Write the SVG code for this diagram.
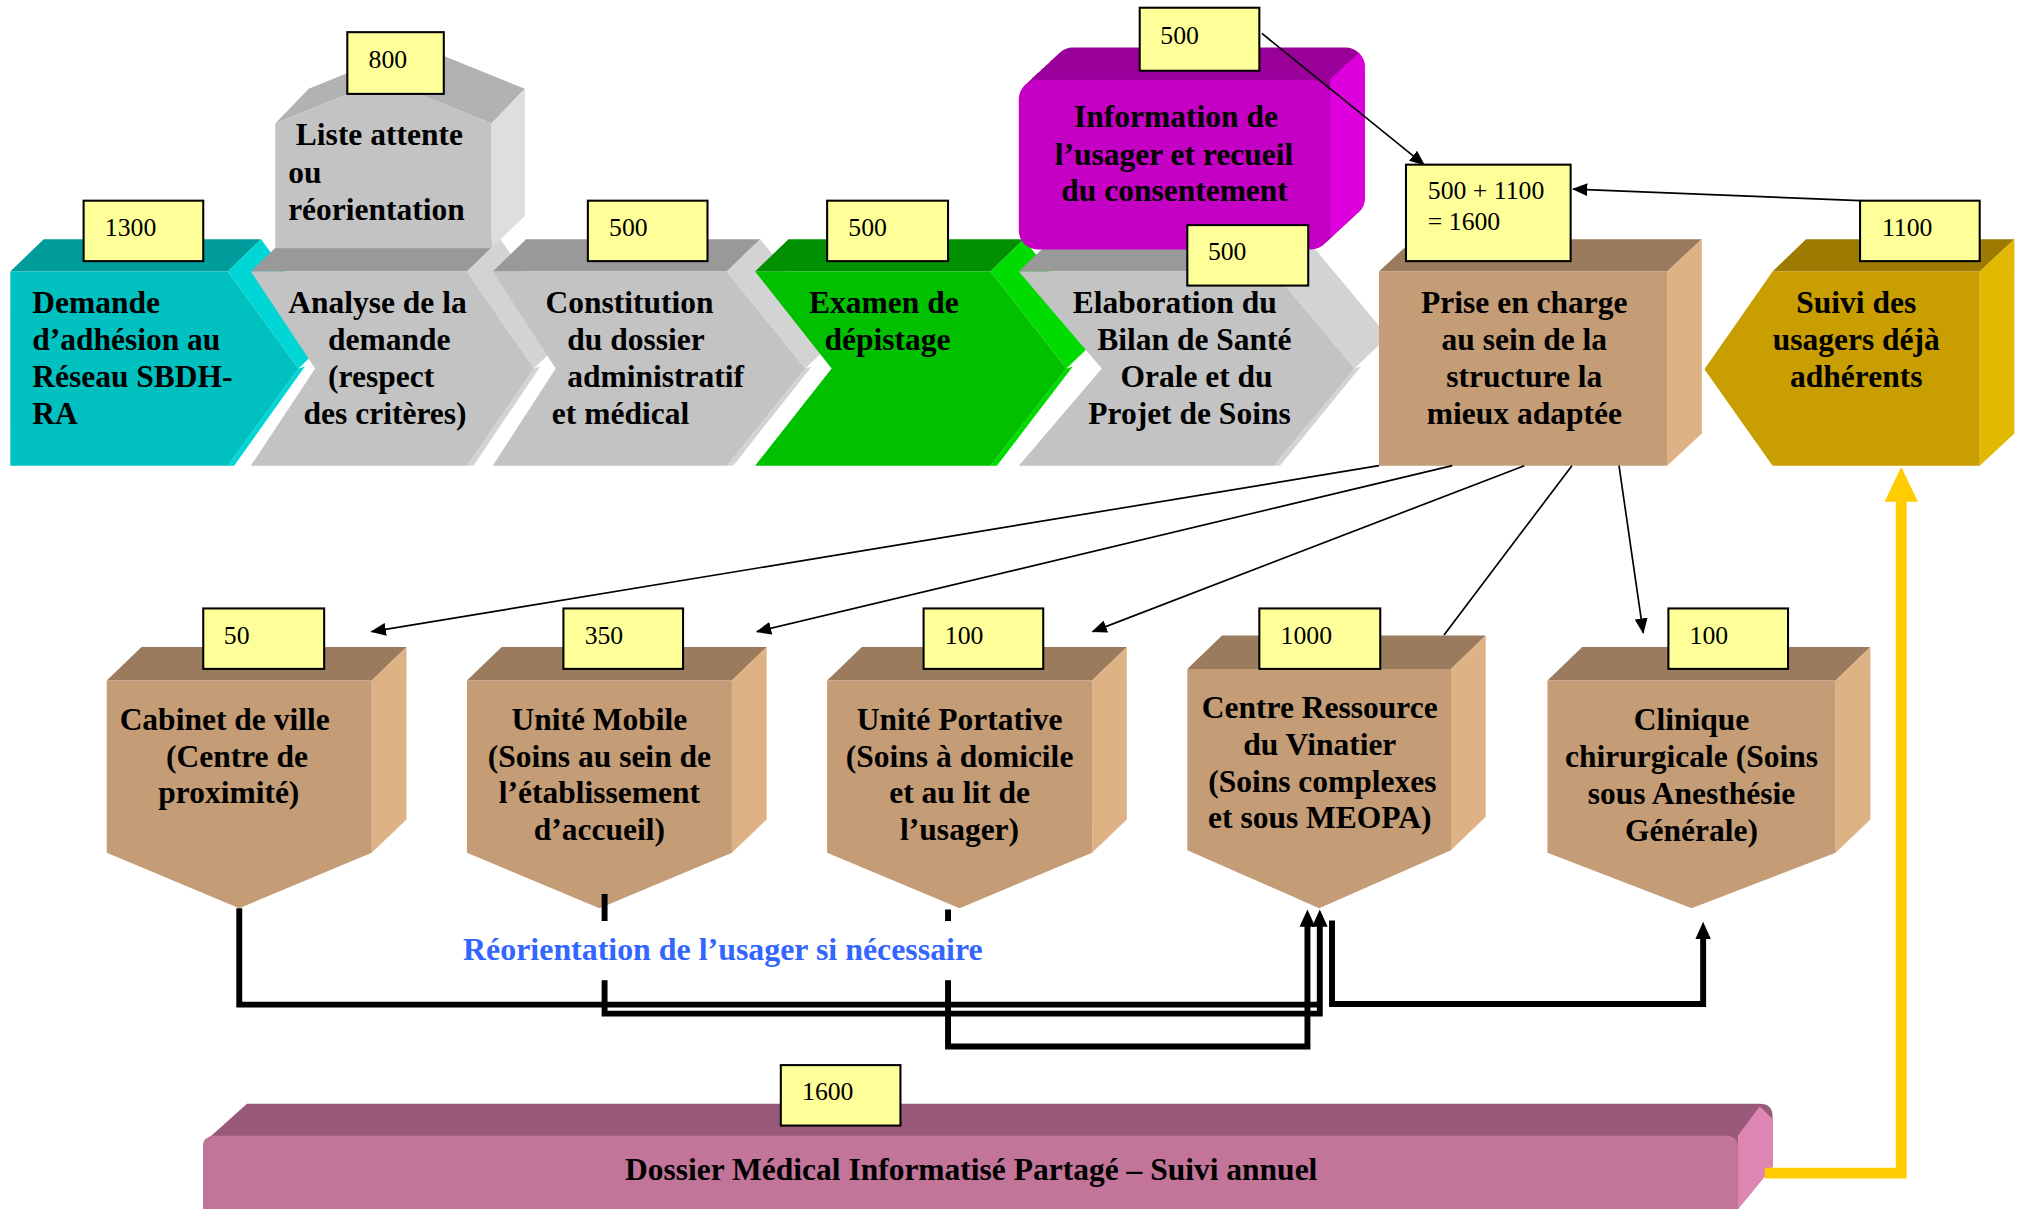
<svg xmlns="http://www.w3.org/2000/svg" width="2017" height="1209" viewBox="0 0 2017 1209">
<style>
.t{font-family:"Liberation Serif","Times New Roman",serif;font-weight:bold;font-size:24.5px;fill:#000}
.m{text-anchor:middle}
.n{font-family:"Liberation Serif","Times New Roman",serif;font-size:20px;fill:#000}
.lab{fill:#FFFF99;stroke:#000;stroke-width:1.6}
.gf{fill:#C3C3C3}.gt{fill:#999999}.gs{fill:#D3D3D3}
.tf{fill:#C49C76}.tt{fill:#9A7B5D}.ts{fill:#DFB286}
.thin{stroke:#000;stroke-width:1.3;fill:none}
.thick{stroke:#000;stroke-width:4.6;fill:none}
</style>
<defs>
<marker id="ah" viewBox="0 0 12 10" refX="11" refY="5" markerWidth="12" markerHeight="10" orient="auto" markerUnits="userSpaceOnUse"><path d="M0,0 L12,5 L0,10 z" fill="#000"/></marker>
<rect id="mg" x="792" y="62" width="242" height="132" rx="15"/>
<clipPath id="mgside"><polygon points="1034,62 1142,-38 1200,-38 1200,300 1034,300"/></clipPath>
<g id="mgext">
<use href="#mg" transform="translate(27,-25)"/>
<use href="#mg" transform="translate(23.6,-21.9)"/>
<use href="#mg" transform="translate(20.2,-18.8)"/>
<use href="#mg" transform="translate(16.9,-15.6)"/>
<use href="#mg" transform="translate(13.5,-12.5)"/>
<use href="#mg" transform="translate(10.1,-9.4)"/>
<use href="#mg" transform="translate(6.8,-6.3)"/>
<use href="#mg" transform="translate(3.4,-3.1)"/>
</g>
</defs>
<rect width="2017" height="1209" fill="#fff"/>
<g transform="scale(1.28635)">

<g id="demande">
<polygon points="8,211 34,186 203,186 177,211" fill="#009B9B"/>
<polygon points="177,211 203,186 258,261.5 232,286.5" fill="#00D6D6"/>
<polygon points="232,286.5 237,285 182,362 177,362" fill="#00D6D6"/>
<polygon points="8,211 177,211 232,286.5 177,362 8,362" fill="#00C0C0"/>
<text class="t" x="25" y="243">Demande</text>
<text class="t" x="25" y="272">d’adhésion au</text>
<text class="t" x="25" y="301">Réseau SBDH-</text>
<text class="t" x="25" y="330">RA</text>
</g>

<g id="analyse">
<polygon class="gt" points="195,211 221,186 389,186 363,211"/>
<polygon class="gs" points="363,211 389,186 441,261.5 415,286.5"/>
<polygon class="gs" points="415,286.5 420,285 368,362 363,362"/>
<polygon class="gf" points="195,211 363,211 415,286.5 363,362 195,362 245,286.5"/>
<text class="t" x="224" y="243">Analyse de la</text>
<text class="t" x="255" y="272">demande</text>
<text class="t" x="255" y="301">(respect</text>
<text class="t" x="236" y="330">des critères)</text>
</g>

<g id="liste">
<polygon points="214,96 240,69 324,35 408,69 382,96 298,62" fill="#B2B2B2"/>
<polygon points="382,96 408,69 408,168 382,193" fill="#DEDEDE"/>
<polygon points="214,96 298,62 382,96 382,193 214,193" fill="#C3C3C3"/>
<text class="t" x="230" y="113">Liste attente</text>
<text class="t" x="224" y="142">ou</text>
<text class="t" x="224" y="171">réorientation</text>
</g>

<g id="constitution">
<polygon class="gt" points="383,211 409,186 591,186 565,211"/>
<polygon class="gs" points="565,211 591,186 652,261.5 626,286.5"/>
<polygon class="gs" points="626,286.5 631,285 570,362 565,362"/>
<polygon class="gf" points="383,211 565,211 626,286.5 565,362 383,362 432,286.5"/>
<text class="t" x="424" y="243">Constitution</text>
<text class="t" x="441" y="272">du dossier</text>
<text class="t" x="441" y="301">administratif</text>
<text class="t" x="429" y="330">et médical</text>
</g>

<g id="examen">
<polygon points="587,211 613,186 796,186 770,211" fill="#009000"/>
<polygon points="770,211 796,186 855,261.5 829,286.5" fill="#00DC00"/>
<polygon points="829,286.5 834,285 775,362 770,362" fill="#00DC00"/>
<polygon points="587,211 770,211 829,286.5 770,362 587,362 646.5,286.5" fill="#00C000"/>
<text class="t" x="629" y="243">Examen de</text>
<text class="t" x="641" y="272">dépistage</text>
</g>

<g id="elaboration">
<polygon class="gt" points="792,211 818,186 1016,186 990,211"/>
<polygon class="gs" points="990,211 1016,186 1079,261.5 1053,286.5"/>
<polygon class="gs" points="1053,286.5 1058,285 995,362 990,362"/>
<polygon class="gf" points="792,211 990,211 1053,286.5 990,362 792,362 856.5,286.5"/>
<text class="t" x="834" y="243">Elaboration du</text>
<text class="t" x="853" y="272">Bilan de Santé</text>
<text class="t" x="871" y="301">Orale et du</text>
<text class="t" x="846" y="330">Projet de Soins</text>
</g>

<g id="information">
<use href="#mgext" fill="#990099"/>
<use href="#mgext" fill="#DD00DD" clip-path="url(#mgside)"/>
<use href="#mg" fill="#C400C4"/>
<text class="t" x="835" y="99">Information de</text>
<text class="t" x="820" y="128">l’usager et recueil</text>
<text class="t" x="825" y="156.5">du consentement</text>
</g>

<g id="prise">
<polygon class="tt" points="1072,211 1099,186 1323,186 1296,211"/>
<polygon class="ts" points="1296,211 1323,186 1323,337 1296,362"/>
<polygon class="tf" points="1072,211 1296,211 1296,362 1072,362"/>
<text class="t m" x="1185" y="243">Prise en charge</text>
<text class="t m" x="1185" y="272">au sein de la</text>
<text class="t m" x="1185" y="301">structure la</text>
<text class="t m" x="1185" y="330">mieux adaptée</text>
</g>

<g id="suivi">
<polygon points="1378,211 1404,186 1566,186 1539,211" fill="#9C7B00"/>
<polygon points="1539,211 1566,186 1566,337 1539,362" fill="#E2B800"/>
<polygon points="1325,287 1378,211 1539,211 1539,362 1378,362" fill="#C89E00"/>
<text class="t m" x="1443" y="243">Suivi des</text>
<text class="t m" x="1443" y="272">usagers déjà</text>
<text class="t m" x="1443" y="301">adhérents</text>
</g>

<g id="cabinet">
<polygon class="tt" points="83,529 110,503 316,503 289,529"/>
<polygon class="ts" points="289,529 316,503 316,637 289,663"/>
<polygon class="tf" points="83,529 289,529 289,663 186,706 83,663"/>
<text class="t" x="93" y="567.5">Cabinet de ville</text>
<text class="t" x="129" y="596">(Centre de</text>
<text class="t" x="123" y="624.5">proximité)</text>
</g>

<g id="mobile">
<polygon class="tt" points="363,529 390,503 596,503 569,529"/>
<polygon class="ts" points="569,529 596,503 596,637 569,663"/>
<polygon class="tf" points="363,529 569,529 569,663 466,706 363,663"/>
<text class="t m" x="466" y="567.5">Unité Mobile</text>
<text class="t m" x="466" y="596">(Soins au sein de</text>
<text class="t m" x="466" y="624.5">l’établissement</text>
<text class="t m" x="466" y="653">d’accueil)</text>
</g>

<g id="portative">
<polygon class="tt" points="643,529 670,503 876,503 849,529"/>
<polygon class="ts" points="849,529 876,503 876,637 849,663"/>
<polygon class="tf" points="643,529 849,529 849,663 746,706 643,663"/>
<text class="t m" x="746" y="567.5">Unité Portative</text>
<text class="t m" x="746" y="596">(Soins à domicile</text>
<text class="t m" x="746" y="624.5">et au lit de</text>
<text class="t m" x="746" y="653">l’usager)</text>
</g>

<g id="centre">
<polygon class="tt" points="923,520 950,494 1155,494 1128,520"/>
<polygon class="ts" points="1128,520 1155,494 1155,635 1128,661"/>
<polygon class="tf" points="923,520 1128,520 1128,661 1025.5,706 923,661"/>
<text class="t m" x="1026" y="558.4">Centre Ressource</text>
<text class="t m" x="1026" y="587">du Vinatier</text>
<text class="t m" x="1028" y="615.4">(Soins complexes</text>
<text class="t m" x="1026" y="644">et sous MEOPA)</text>
</g>

<g id="clinique">
<polygon class="tt" points="1203,529 1230,503 1454,503 1427,529"/>
<polygon class="ts" points="1427,529 1454,503 1454,637 1427,663"/>
<polygon class="tf" points="1203,529 1427,529 1427,663 1315,706 1203,663"/>
<text class="t m" x="1315" y="567.5">Clinique</text>
<text class="t m" x="1315" y="596">chirurgicale (Soins</text>
<text class="t m" x="1315" y="625">sous Anesthésie</text>
<text class="t m" x="1315" y="654">Générale)</text>
</g>

<g id="dossier">
<path d="M192,858 L1368,858 Q1378,858 1378,868 L1378,907 L1351,940 L158,940 L158,890 Q158,885 163,884 Z" fill="#985A78"/>
<polygon points="1351,883 1368,860 1378,870 1378,907 1351,940" fill="#DE86B3"/>
<rect x="158" y="883" width="1193" height="80" rx="8" fill="#C27499"/>
<text class="t m" x="755" y="917">Dossier Médical Informatisé Partagé – Suivi annuel</text>
</g>

<g id="connectors">
<path class="thin" d="M981,26 L1107,128" marker-end="url(#ah)"/>
<path class="thin" d="M1446,156 L1223,147" marker-end="url(#ah)"/>
<path class="thin" d="M1072,362 L289,491" marker-end="url(#ah)"/>
<path class="thin" d="M1129,362 L588.5,491" marker-end="url(#ah)"/>
<path class="thin" d="M1185,362 L849.5,491" marker-end="url(#ah)"/>
<path class="thin" d="M1222,362 L1122.6,493.6"/>
<path class="thin" d="M1258.6,362 L1277.4,491.8" marker-end="url(#ah)"/>
<path class="thick" d="M186,706 V781 H1026"/>
<path class="thick" d="M470,695 V788 H1026 V719"/>
<path class="thick" d="M737,707 V813.5 H1016.4 V719"/>
<path class="thick" d="M1035.5,715.5 V780.5 H1324 V729"/>
<polygon points="1010.3,720.5 1016.4,707 1022.5,720.5" fill="#000"/>
<polygon points="1019.9,720.5 1026,707 1032.1,720.5" fill="#000"/>
<polygon points="1318,730 1324,716.5 1330,730" fill="#000"/>
<path d="M1372,912 H1478 V388" fill="none" stroke="#FFCC00" stroke-width="8.5"/>
<polygon points="1465,390 1478,363 1491,390" fill="#FFCC00"/>
</g>

<g id="reorientation">
<rect x="355" y="716" width="415" height="46" fill="#fff"/>
<text class="t" x="360" y="746" style="fill:#3366FF;font-size:24.8px">Réorientation de l’usager si nécessaire</text>
</g>

<g id="labels">
<g id="lab-1300"><rect class="lab" x="65" y="156" width="93" height="47"/><text class="n" x="81.5" y="183.5">1300</text></g>
<g id="lab-800"><rect class="lab" x="270" y="25" width="75" height="48"/><text class="n" x="286.5" y="53">800</text></g>
<g id="lab-500a"><rect class="lab" x="457" y="156" width="93" height="47"/><text class="n" x="473.5" y="183.5">500</text></g>
<g id="lab-500b"><rect class="lab" x="643" y="156" width="94" height="47"/><text class="n" x="659.5" y="183.5">500</text></g>
<g id="lab-500c"><rect class="lab" x="886" y="6" width="93" height="49"/><text class="n" x="902" y="34">500</text></g>
<g id="lab-500d"><rect class="lab" x="923" y="175" width="94" height="47"/><text class="n" x="939" y="202">500</text></g>
<g id="lab-1600a"><rect class="lab" x="1093" y="128" width="128" height="75"/><text class="n" x="1110" y="155">500 + 1100</text><text class="n" x="1110" y="179">= 1600</text></g>
<g id="lab-1100"><rect class="lab" x="1446" y="156" width="93" height="47"/><text class="n" x="1463" y="183.5">1100</text></g>
<g id="lab-50"><rect class="lab" x="158" y="473" width="94" height="47"/><text class="n" x="174" y="500.5">50</text></g>
<g id="lab-350"><rect class="lab" x="438" y="473" width="93" height="47"/><text class="n" x="454.5" y="500.5">350</text></g>
<g id="lab-100a"><rect class="lab" x="718" y="473" width="93" height="47"/><text class="n" x="734.5" y="500.5">100</text></g>
<g id="lab-1000"><rect class="lab" x="979" y="473" width="94" height="47"/><text class="n" x="995.5" y="500.5">1000</text></g>
<g id="lab-100b"><rect class="lab" x="1297" y="473" width="93" height="47"/><text class="n" x="1313.5" y="500.5">100</text></g>
<g id="lab-1600"><rect class="lab" x="607" y="828" width="93" height="47"/><text class="n" x="623.5" y="855.5">1600</text></g>
</g>

</g>
</svg>
